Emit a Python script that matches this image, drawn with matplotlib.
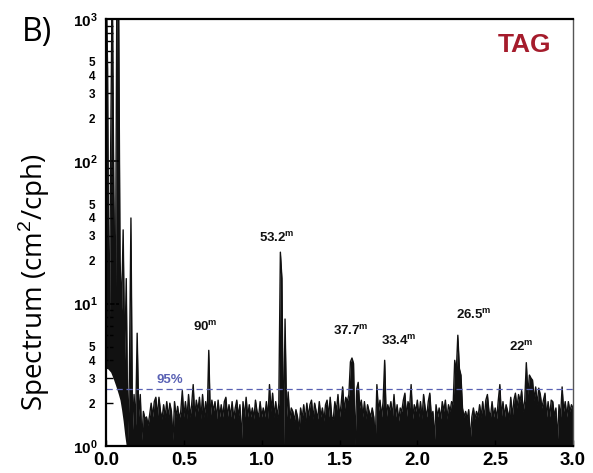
import numpy as np
import matplotlib
matplotlib.use("Agg")
import matplotlib.pyplot as plt
from matplotlib.ticker import FixedLocator, FuncFormatter

plt.rcParams['mathtext.fontset'] = 'custom'
plt.rcParams['mathtext.rm'] = 'Liberation Sans'
plt.rcParams['mathtext.bf'] = 'Liberation Sans:bold'
plt.rcParams['font.family'] = ['Liberation Sans', 'DejaVu Sans']

# ---- data (frequency grid 0.00 .. 3.00 cph, step 0.01) ----
freq_step = 0.01
spec_0_to_1 = [
    2000, 450, 3.5, 130, 2000, 60, 8, 2000, 2000, 20,
    9, 33, 4, 15, 1.1, 3.0, 40, 1.3, 2.3, 1.4,
    6.2, 1.6, 2.3, 1.1, 1.75, 1.55, 1.6, 1.4, 1.65, 2.0,
    1.6, 2.05, 2.2, 1.6, 2.2, 1.75, 1.55, 1.95, 1.6, 2.05,
    1.6, 2.0, 1.75, 1.1, 2.05, 1.6, 1.9, 1.55, 1.75, 2.45,
    1.6, 2.05, 1.55, 2.3, 1.6, 1.95, 2.7, 1.6, 2.1, 1.75,
    2.2, 1.55, 2.3, 1.6, 2.05, 1.6, 4.7, 1.6, 2.1, 1.75,
    2.05, 1.55, 2.1, 1.6, 1.95, 1.6, 2.05, 2.2, 1.6, 1.95,
    1.6, 2.05, 1.55, 1.85, 2.1, 1.6, 1.95, 1.1, 2.05, 1.6,
    2.2, 1.6, 1.95, 1.6, 1.85, 1.55, 2.1, 1.75, 1.6, 2.05,
]
spec_1_to_2 = [
    1.6, 1.85, 1.6, 2.05, 1.55, 2.7, 1.75, 2.35, 1.6, 2.05,
    1.6, 2.0, 23, 15, 1.0, 7.8, 1.6, 2.4, 1.55, 1.85,
    1.75, 1.5, 1.8, 1.6, 1.3, 1.85, 1.55, 1.95, 1.5, 2.0,
    1.6, 1.95, 2.1, 1.55, 2.0, 1.75, 1.55, 2.05, 1.6, 1.85,
    1.5, 1.95, 2.1, 1.6, 2.2, 1.6, 1.55, 2.05, 1.75, 2.3,
    1.6, 1.95, 2.6, 1.75, 2.2, 2.05, 2.3, 3.9, 4.15, 3.8,
    1.0, 2.5, 2.8, 1.85, 2.1, 1.6, 2.05, 1.55, 1.95, 1.75,
    1.6, 1.85, 1.6, 1.1, 2.7, 1.75, 2.1, 1.6, 2.05, 4.0,
    1.55, 1.95, 1.75, 2.05, 1.6, 2.3, 1.6, 1.95, 1.5, 1.85,
    1.75, 2.1, 2.35, 1.6, 2.05, 1.85, 2.7, 1.55, 1.95, 1.75,
]
spec_2_to_3 = [
    2.1, 1.6, 2.05, 1.55, 2.3, 1.85, 1.6, 2.05, 2.35, 1.6,
    1.75, 1.1, 1.95, 1.6, 1.85, 1.55, 2.05, 1.75, 2.1, 1.55,
    1.95, 1.75, 2.05, 1.95, 4.0, 3.3, 6.0, 3.5, 3.15, 1.85,
    1.6, 1.75, 1.55, 1.8, 1.1, 1.6, 1.85, 1.55, 1.75, 1.6,
    1.95, 1.6, 2.05, 1.55, 2.1, 2.3, 1.75, 1.6, 2.05, 1.6,
    1.85, 1.55, 2.1, 2.7, 1.6, 2.05, 1.6, 1.95, 1.75, 1.55,
    2.2, 1.6, 2.1, 2.35, 1.85, 2.3, 2.05, 2.45, 1.75, 2.1,
    3.85, 2.3, 3.15, 3.0, 2.9, 2.1, 2.6, 1.95, 2.55, 2.3,
    1.85, 2.1, 2.35, 1.6, 2.05, 1.6, 2.1, 2.05, 1.6, 1.85,
    1.1, 1.95, 1.6, 2.6, 1.75, 2.05, 1.6, 2.05, 1.75, 1.95, 1.85,
]
# lower envelope of the dense low-frequency part (0.00 .. 0.13 cph)
lowfreq_floor = [3.5, 3.5, 3.4, 3.3, 3.1, 2.9, 2.7, 2.5, 2.3, 2.1, 1.8, 1.5, 1.2, 1.0]
conf95 = 2.5
peak_labels = ["90", "53.2", "37.7", "33.4", "26.5", "22"]
peak_label_x = [0.64, 1.10, 1.575, 1.88, 2.36, 2.67]
peak_label_y = [6.9, 29.0, 6.4, 5.5, 8.4, 5.0]
x_ticks = [0.0, 0.5, 1.0, 1.5, 2.0, 2.5, 3.0]

spectrum = np.array(spec_0_to_1 + spec_1_to_2 + spec_2_to_3, dtype=float)
freq = np.arange(len(spectrum)) * freq_step
baseline = np.ones_like(spectrum)
baseline[:len(lowfreq_floor)] = lowfreq_floor

fig = plt.figure(figsize=(5.93, 4.73), dpi=100)
ax = fig.add_axes([0.1788, 0.0571, 0.7875, 0.9027])

ax.fill_between(freq, baseline, spectrum, color='#111111', lw=0)
ax.plot(freq, spectrum, color='#111111', lw=1.0)
ax.axhline(conf95, color='#5a62b4', lw=0.9, ls=(0, (5, 3)))

ax.set_yscale('log')
ax.set_xlim(0, 3.0)
ax.set_ylim(1, 1000)

# y ticks
ax.yaxis.set_major_locator(FixedLocator([1, 10, 100, 1000]))
ax.yaxis.set_major_formatter(FuncFormatter(lambda v, p: r'$\mathbf{10^{%d}}$' % int(round(np.log10(v)))))
minors = [m * 10 ** d for d in range(0, 3) for m in range(2, 10)]
ax.yaxis.set_minor_locator(FixedLocator(minors))
def minor_fmt(v, p):
    m = int(round(v / 10 ** np.floor(np.log10(v) + 1e-9)))
    return str(m) if m in (2, 3, 4, 5) else ''
ax.yaxis.set_minor_formatter(FuncFormatter(minor_fmt))
ax.tick_params(axis='y', which='major', direction='in', length=9, width=1.2, labelsize=11, pad=6)
ax.tick_params(axis='y', which='minor', direction='in', length=5, width=1.0, labelsize=8.5, pad=8)
for lab in ax.yaxis.get_minorticklabels():
    lab.set_fontweight('bold')

ax.set_xticks(x_ticks)
ax.set_xticklabels(['%.1f' % t for t in x_ticks], fontweight='bold')
ax.tick_params(axis='x', direction='in', length=4, width=1.0, labelsize=13.5, pad=4)

for s in ax.spines.values():
    s.set_linewidth(1.6)
ax.spines['right'].set_linewidth(1.0)
ax.spines['right'].set_color('#555555')

for lab, x, y in zip(peak_labels, peak_label_x, peak_label_y):
    ax.text(x, y, lab + r'$^{\mathbf{m}}$', ha='center', va='center',
            fontsize=9.5, fontweight='bold', color='#111111')

ax.text(0.41, 2.9, '95%', ha='center', va='center', fontsize=9.5,
        fontweight='bold', color='#5a62b4')
ax.text(0.897, 0.94, 'TAG', transform=ax.transAxes, ha='center', va='center',
        fontsize=19, fontweight='bold', color='#a51c2c')

fig.text(0.062, 0.932, 'B)', fontsize=23, family='Open Sans', ha='center', va='center')
ax.set_ylabel('Spectrum (cm$^2$/cph)', fontsize=20, family='Open Sans')
ax.yaxis.set_label_coords(-0.115, 0.385)

fig.savefig('out.png', dpi=100)
